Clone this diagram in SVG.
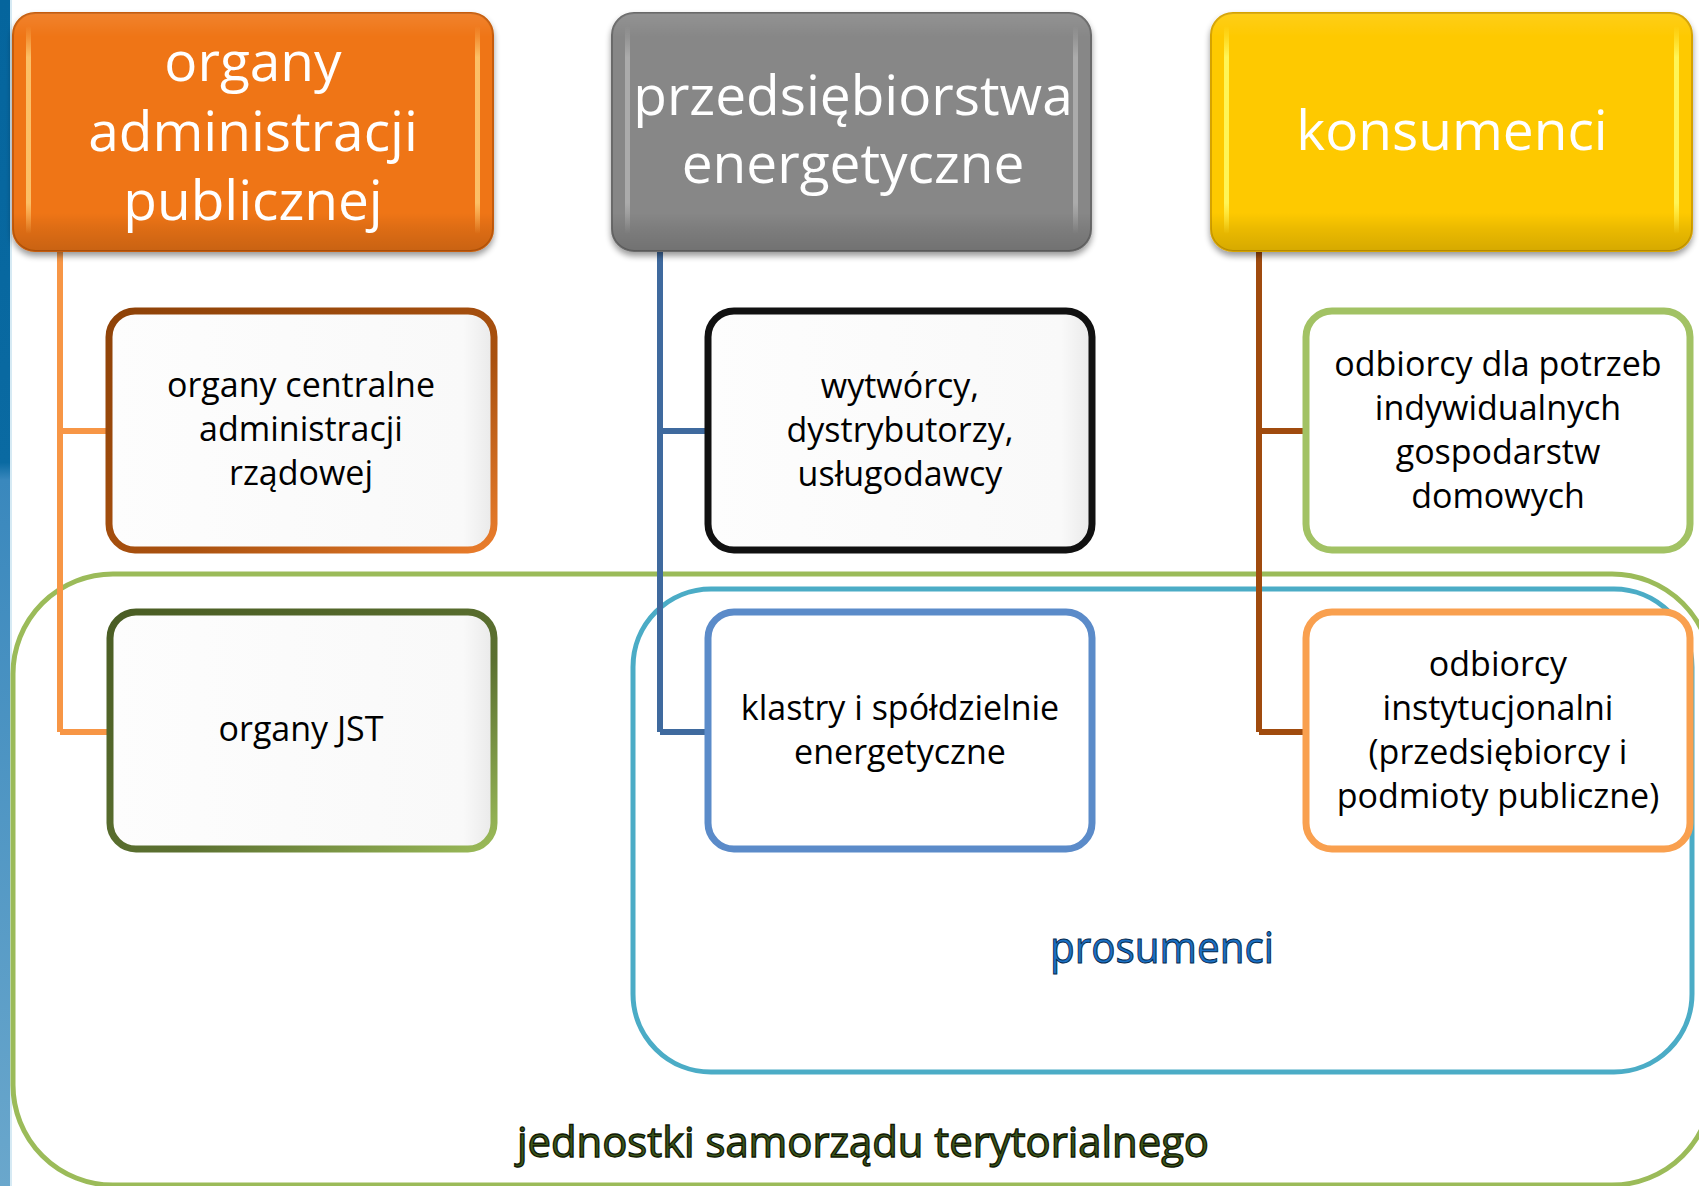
<svg xmlns="http://www.w3.org/2000/svg" width="1699" height="1186" viewBox="0 0 1699 1186">
  <defs>
    <style>
      .hdr { font-family: "Open Sans", "Liberation Sans", sans-serif; font-size: 55px; fill: #ffffff; text-anchor: middle; }
      .lbl { font-family: "Open Sans", "Liberation Sans", sans-serif; font-size: 34px; fill: #000000; text-anchor: middle; }
      .region { fill: none; stroke-width: 5; }
      .child { stroke-width: 7; }
      .conn { fill: none; stroke-width: 6; stroke-linejoin: miter; }
    </style>
    <linearGradient id="barGrad" x1="0" y1="0" x2="0" y2="1">
      <stop offset="0" stop-color="#05659d"/>
      <stop offset="0.39" stop-color="#0a6aa2"/>
      <stop offset="0.405" stop-color="#3a88bd"/>
      <stop offset="1" stop-color="#6aa7cc"/>
    </linearGradient>
    <linearGradient id="shade" x1="0" y1="0" x2="0" y2="1">
      <stop offset="0" stop-color="#ffffff" stop-opacity="0.10"/>
      <stop offset="0.10" stop-color="#ffffff" stop-opacity="0"/>
      <stop offset="0.84" stop-color="#000000" stop-opacity="0"/>
      <stop offset="0.9" stop-color="#000000" stop-opacity="0.07"/>
      <stop offset="1" stop-color="#000000" stop-opacity="0.16"/>
    </linearGradient>
    <linearGradient id="hiWhite" x1="0" y1="0" x2="0" y2="1">
      <stop offset="0" stop-color="#ffffff" stop-opacity="0"/>
      <stop offset="0.15" stop-color="#ffffff" stop-opacity="0.3"/>
      <stop offset="0.85" stop-color="#ffffff" stop-opacity="0.3"/>
      <stop offset="1" stop-color="#ffffff" stop-opacity="0"/>
    </linearGradient>
    <linearGradient id="hiOrange" x1="0" y1="0" x2="0" y2="1">
      <stop offset="0" stop-color="#ffd27a" stop-opacity="0"/>
      <stop offset="0.15" stop-color="#ffd27a" stop-opacity="0.8"/>
      <stop offset="0.85" stop-color="#ffd27a" stop-opacity="0.8"/>
      <stop offset="1" stop-color="#ffd27a" stop-opacity="0"/>
    </linearGradient>
    <linearGradient id="hiYellow" x1="0" y1="0" x2="0" y2="1">
      <stop offset="0" stop-color="#fffa60" stop-opacity="0"/>
      <stop offset="0.15" stop-color="#fffa60" stop-opacity="0.9"/>
      <stop offset="0.85" stop-color="#fffa60" stop-opacity="0.9"/>
      <stop offset="1" stop-color="#fffa60" stop-opacity="0"/>
    </linearGradient>
    <linearGradient id="childFill" x1="0" y1="0" x2="1" y2="0">
      <stop offset="0" stop-color="#fdfdfd"/>
      <stop offset="0.92" stop-color="#f9f9f9"/>
      <stop offset="1" stop-color="#e9e9e9"/>
    </linearGradient>
    <linearGradient id="brownStroke" x1="0" y1="0" x2="1" y2="1">
      <stop offset="0" stop-color="#8e4208"/>
      <stop offset="0.6" stop-color="#a9510f"/>
      <stop offset="1" stop-color="#ea7d2c"/>
    </linearGradient>
    <linearGradient id="oliveStroke" x1="0" y1="0" x2="1" y2="1">
      <stop offset="0" stop-color="#4a5d24"/>
      <stop offset="0.6" stop-color="#5b7030"/>
      <stop offset="1" stop-color="#9bbb59"/>
    </linearGradient>
    <filter id="shadow" x="-5%" y="-5%" width="110%" height="120%">
      <feGaussianBlur in="SourceAlpha" stdDeviation="3"/>
      <feOffset dy="4" result="b"/>
      <feComponentTransfer><feFuncA type="linear" slope="0.4"/></feComponentTransfer>
      <feMerge><feMergeNode/><feMergeNode in="SourceGraphic"/></feMerge>
    </filter>
  </defs>

  <rect x="0" y="0" width="1699" height="1186" fill="#ffffff"/>
  <rect x="0" y="0" width="10" height="1186" fill="url(#barGrad)"/>
  <rect x="10" y="0" width="2" height="1186" fill="#d6eaf4"/>

  <!-- regions -->
  <g id="region-jst">
    <rect class="region" x="13" y="574" width="1699" height="611" rx="100" stroke="#9bbb59"/>
    <text x="863" y="1157" font-family="'Open Sans', 'Liberation Sans', sans-serif" font-size="42" text-anchor="middle" textLength="692" lengthAdjust="spacingAndGlyphs" fill="#3b5519" stroke="#0f1805" stroke-width="1.3">jednostki samorządu terytorialnego</text>
  </g>
  <g id="region-prosumenci">
    <rect class="region" x="633" y="589" width="1059" height="483" rx="78" stroke="#4bacc6"/>
    <text x="1162" y="963" font-family="'Open Sans', 'Liberation Sans', sans-serif" font-size="44" text-anchor="middle" textLength="224" lengthAdjust="spacingAndGlyphs" fill="#1a70c4" stroke="#062a50" stroke-width="1">prosumenci</text>
  </g>

  <!-- connectors -->
  <g id="connectors">
    <path class="conn" stroke="#f79646" d="M60,240 V732 M60,431 H109 M60,732 H109"/>
    <path class="conn" stroke="#3f6a9e" d="M660,240 V732 M660,431 H708 M660,732 H708"/>
    <path class="conn" stroke="#a04b0e" d="M1259,240 V732 M1259,431 H1306 M1259,732 H1306"/>
  </g>

  <!-- headers -->
  <g id="hdr-admin">
    <g filter="url(#shadow)">
      <rect x="13" y="13" width="480" height="238" rx="22" fill="#ef7512" stroke="#c65c08" stroke-width="2"/>
    </g>
    <rect x="13" y="13" width="480" height="238" rx="22" fill="url(#shade)"/>
    <rect x="26" y="26" width="5" height="208" rx="2.5" fill="url(#hiOrange)"/>
    <rect x="475" y="26" width="5" height="208" rx="2.5" fill="url(#hiOrange)"/>
    <text class="hdr" x="253" y="81">organy</text>
    <text class="hdr" x="253" y="151">administracji</text>
    <text class="hdr" x="253" y="220">publicznej</text>
  </g>
  <g id="hdr-przeds">
    <g filter="url(#shadow)">
      <rect x="612" y="13" width="479" height="238" rx="22" fill="#878787" stroke="#6a6a6a" stroke-width="2"/>
    </g>
    <rect x="612" y="13" width="479" height="238" rx="22" fill="url(#shade)"/>
    <rect x="625" y="26" width="5" height="208" rx="2.5" fill="url(#hiWhite)"/>
    <rect x="1073" y="26" width="5" height="208" rx="2.5" fill="url(#hiWhite)"/>
    <text class="hdr" x="853" y="115">przedsiębiorstwa</text>
    <text class="hdr" x="853" y="183">energetyczne</text>
  </g>
  <g id="hdr-konsumenci">
    <g filter="url(#shadow)">
      <rect x="1211" y="13" width="481" height="238" rx="22" fill="#fec900" stroke="#d6a300" stroke-width="2"/>
    </g>
    <rect x="1211" y="13" width="481" height="238" rx="22" fill="url(#shade)"/>
    <rect x="1224" y="26" width="5" height="208" rx="2.5" fill="url(#hiYellow)"/>
    <rect x="1674" y="26" width="5" height="208" rx="2.5" fill="url(#hiYellow)"/>
    <text class="hdr" x="1452" y="150">konsumenci</text>
  </g>

  <!-- child nodes -->
  <g id="n-centralne">
    <rect class="child" x="109" y="311" width="385" height="239" rx="26" fill="url(#childFill)" stroke="url(#brownStroke)"/>
    <text class="lbl" x="301" y="397">organy centralne</text>
    <text class="lbl" x="301" y="441">administracji</text>
    <text class="lbl" x="301" y="485">rządowej</text>
  </g>
  <g id="n-jst">
    <rect class="child" x="110" y="612" width="384" height="237" rx="26" fill="url(#childFill)" stroke="url(#oliveStroke)"/>
    <text class="lbl" x="301" y="741">organy JST</text>
  </g>
  <g id="n-wytworcy">
    <rect class="child" x="708" y="311" width="384" height="239" rx="26" fill="url(#childFill)" stroke="#111111" stroke-width="6"/>
    <text class="lbl" x="900" y="398">wytwórcy,</text>
    <text class="lbl" x="900" y="442">dystrybutorzy,</text>
    <text class="lbl" x="900" y="486">usługodawcy</text>
  </g>
  <g id="n-klastry">
    <rect class="child" x="708" y="612" width="384" height="237" rx="26" fill="#ffffff" stroke="#5b8bc9"/>
    <text class="lbl" x="900" y="720">klastry i spółdzielnie</text>
    <text class="lbl" x="900" y="764">energetyczne</text>
  </g>
  <g id="n-gospodarstwa">
    <rect class="child" x="1306" y="311" width="384" height="239" rx="26" fill="#ffffff" stroke="#a2c264"/>
    <text class="lbl" x="1498" y="376">odbiorcy dla potrzeb</text>
    <text class="lbl" x="1498" y="420">indywidualnych</text>
    <text class="lbl" x="1498" y="464">gospodarstw</text>
    <text class="lbl" x="1498" y="508">domowych</text>
  </g>
  <g id="n-instytucjonalni">
    <rect class="child" x="1306" y="612" width="384" height="237" rx="26" fill="#ffffff" stroke="#f9a04f"/>
    <text class="lbl" x="1498" y="676">odbiorcy</text>
    <text class="lbl" x="1498" y="720">instytucjonalni</text>
    <text class="lbl" x="1498" y="764">(przedsiębiorcy i</text>
    <text class="lbl" x="1498" y="808">podmioty publiczne)</text>
  </g>
</svg>
